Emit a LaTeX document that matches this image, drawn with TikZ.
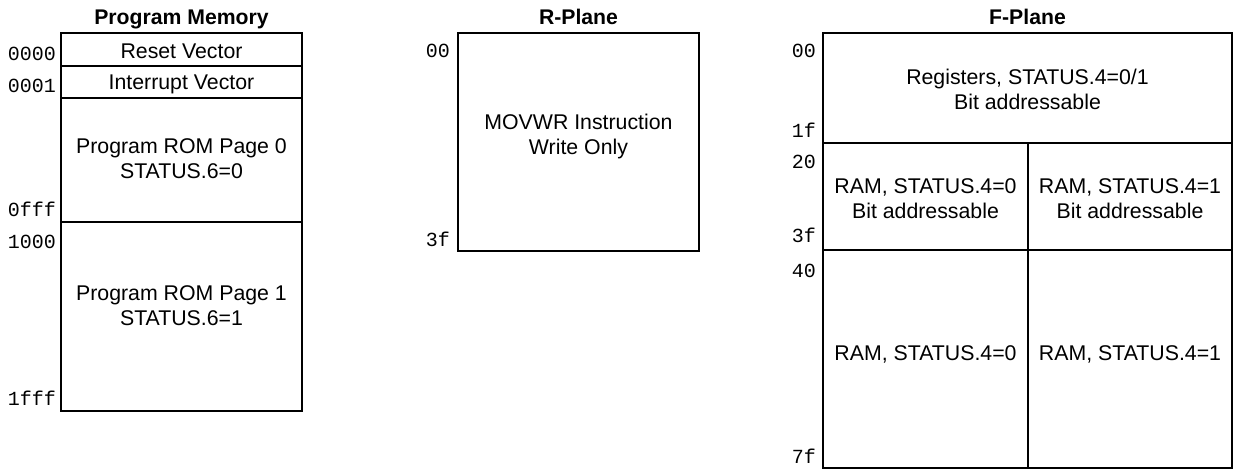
\documentclass[tikz,border=0pt]{standalone}
\usepackage{fontspec}
\setmainfont{Liberation Sans}
\newfontfamily\addrfont{Liberation Mono}
\begin{document}
\begin{tikzpicture}[x=1pt,y=-1pt,
  cell/.style={draw=black, line width=1.7pt, minimum width=#1, inner sep=0pt, outer sep=0pt},
  txt/.style={font=\fontsize{21.3}{25}\selectfont, align=center, inner sep=0pt},
  ttl/.style={font=\fontsize{21.2}{25}\selectfont\bfseries, anchor=base, inner sep=0pt},
  addr/.style={font=\fontsize{20}{24}\addrfont, anchor=base east, inner sep=0pt}]
\useasboundingbox (0,0) rectangle (1234,469);
% ---------- Program Memory ----------
\node[ttl] (pmT) at (181.5,24) {Program Memory};
\node[cell=241pt, minimum height=33pt] (reset) at (181.5,49.5) {};
\node[cell=241pt, minimum height=32pt] (intv) at (181.5,82) {};
\node[cell=241pt, minimum height=124pt] (pg0) at (181.5,160) {};
\node[cell=241pt, minimum height=189pt] (pg1) at (181.5,316.5) {};
\node[txt] (resetT) at (181.5,51) {Reset Vector};
\node[txt] (intvT) at (181.5,84) {Interrupt Vector};
\node[txt] (pg0T) at (181.5,158.5) {Program ROM Page 0\\STATUS.6=0};
\node[txt] (pg1T) at (181.5,305.5) {Program ROM Page 1\\STATUS.6=1};
\node[addr] (a0000) at (56,60) {0000};
\node[addr] (a0001) at (56,92) {0001};
\node[addr] (a0fff) at (56,216) {0fff};
\node[addr] (a1000) at (56,248) {1000};
\node[addr] (a1fff) at (56,405) {1fff};
% ---------- R-Plane ----------
\node[ttl] (rpT) at (578.5,24) {R-Plane};
\node[cell=241pt, minimum height=218pt] (rp) at (578.5,142) {};
\node[txt] (rpText) at (578.5,136.5) {MOVWR Instruction\\Write Only};
\node[addr] (r00) at (450,57) {00};
\node[addr] (r3f) at (450,246) {3f};
% ---------- F-Plane ----------
\node[ttl] (fpT) at (1027.5,24) {F-Plane};
\node[cell=409pt, minimum height=110pt] (regs) at (1027.5,88) {};
\node[cell=205pt, minimum height=107pt] (ramA0) at (925.5,196.5) {};
\node[cell=204pt, minimum height=107pt] (ramA1) at (1130,196.5) {};
\node[cell=205pt, minimum height=218pt] (ramB0) at (925.5,359) {};
\node[cell=204pt, minimum height=218pt] (ramB1) at (1130,359) {};
\node[txt] (regsT) at (1027.5,89.5) {Registers, STATUS.4=0/1\\Bit addressable};
\node[txt] (ramA0T) at (925.5,198.5) {RAM, STATUS.4=0\\Bit addressable};
\node[txt] (ramA1T) at (1130,198.5) {RAM, STATUS.4=1\\Bit addressable};
\node[txt] (ramB0T) at (925.5,354) {RAM, STATUS.4=0};
\node[txt] (ramB1T) at (1130,354) {RAM, STATUS.4=1};
\node[addr] (f00) at (816,57) {00};
\node[addr] (f1f) at (816,137) {1f};
\node[addr] (f20) at (816,168) {20};
\node[addr] (f3f) at (816,242) {3f};
\node[addr] (f40) at (816,277) {40};
\node[addr] (f7f) at (816,463) {7f};
\end{tikzpicture}
\end{document}
